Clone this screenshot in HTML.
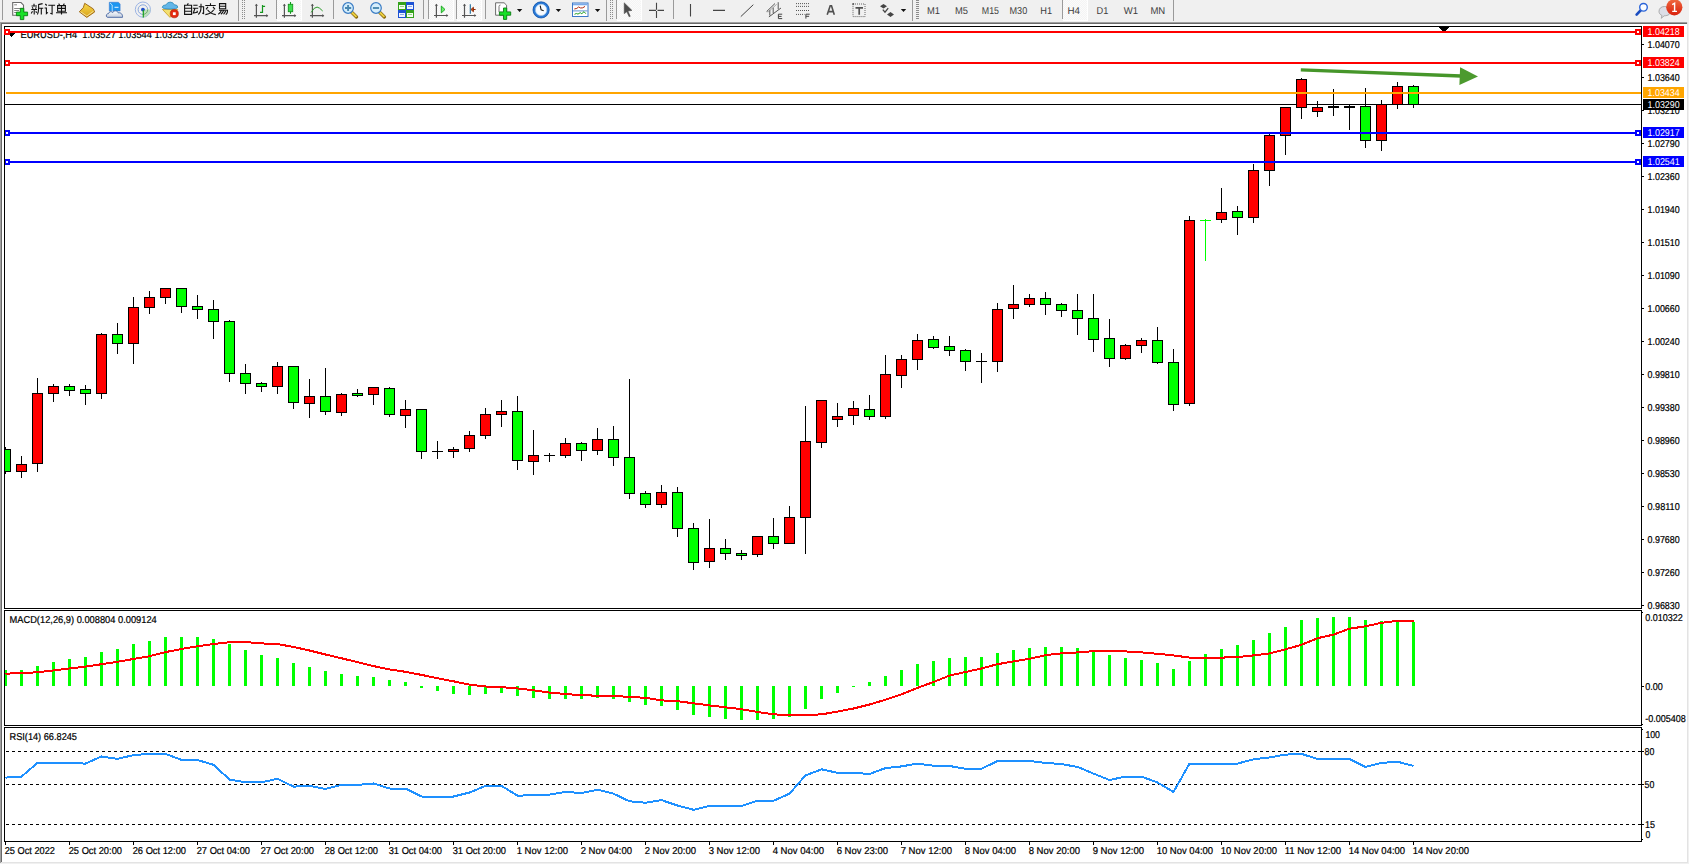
<!DOCTYPE html><html><head><meta charset="utf-8"><style>html,body{margin:0;padding:0;width:1689px;height:864px;overflow:hidden;background:#f0f0f0}svg{display:block}text{font-family:"Liberation Sans",sans-serif;text-rendering:geometricPrecision}</style></head><body>
<svg width="1689" height="864" viewBox="0 0 1689 864">
<rect x="0" y="0" width="1689" height="864" fill="#f0f0f0"/>
<g id="toolbar">
<defs>
<pattern id="chk" width="2" height="2" patternUnits="userSpaceOnUse"><rect width="2" height="2" fill="#f4f4f4"/><rect width="1" height="1" fill="#fbfbfb"/><rect x="1" y="1" width="1" height="1" fill="#fbfbfb"/></pattern>
<pattern id="grip" width="4" height="2" patternUnits="userSpaceOnUse"><rect width="3" height="1" fill="#8c8c8c"/></pattern>
<linearGradient id="gGold" x1="0" y1="0" x2="0" y2="1"><stop offset="0" stop-color="#f7d84a"/><stop offset="1" stop-color="#d9a21a"/></linearGradient>
<linearGradient id="gCloud" x1="0" y1="0" x2="0" y2="1"><stop offset="0" stop-color="#ffffff"/><stop offset="1" stop-color="#c4cede"/></linearGradient>
<linearGradient id="gBadge" x1="0" y1="0" x2="0" y2="1"><stop offset="0" stop-color="#f06a40"/><stop offset="1" stop-color="#d8200c"/></linearGradient>
</defs>
<g shape-rendering="crispEdges">
<!-- separators -->
<rect x="2" y="0" width="1" height="20" fill="#9a9a9a"/>
<rect x="238" y="0" width="1" height="21" fill="#9a9a9a"/>
<rect x="242" y="0" width="3" height="19" fill="url(#grip)"/>
<rect x="276" y="0" width="1" height="19" fill="#9a9a9a"/>
<rect x="333" y="0" width="1" height="19" fill="#9a9a9a"/>
<rect x="423" y="0" width="1" height="19" fill="#9a9a9a"/>
<rect x="428" y="0" width="1" height="19" fill="#9a9a9a"/>
<rect x="456" y="0" width="1" height="19" fill="#9a9a9a"/>
<rect x="485" y="0" width="1" height="19" fill="#9a9a9a"/>
<rect x="606" y="0" width="1" height="21" fill="#9a9a9a"/>
<rect x="610" y="0" width="3" height="19" fill="url(#grip)"/>
<rect x="616" y="0" width="1" height="19" fill="#9a9a9a"/>
<rect x="673" y="0" width="1" height="19" fill="#9a9a9a"/>
<rect x="912" y="0" width="1" height="21" fill="#9a9a9a"/>
<rect x="916" y="0" width="3" height="19" fill="url(#grip)"/>
<rect x="1062" y="0" width="1" height="19" fill="#9a9a9a"/>
<rect x="1173" y="0" width="1" height="21" fill="#9a9a9a"/>
<!-- pressed backgrounds -->
<rect x="277" y="0" width="24" height="20" fill="url(#chk)"/>
<rect x="429" y="0" width="24" height="20" fill="url(#chk)"/>
<rect x="457" y="0" width="24" height="20" fill="url(#chk)"/>
<rect x="617" y="0" width="24" height="20" fill="url(#chk)"/>
<rect x="1063" y="0" width="24" height="20" fill="url(#chk)"/>
<rect x="277" y="20" width="25" height="1" fill="#fff"/><rect x="301" y="0" width="1" height="20" fill="#fff"/>
<rect x="429" y="20" width="25" height="1" fill="#fff"/><rect x="453" y="0" width="1" height="20" fill="#fff"/>
<rect x="457" y="20" width="25" height="1" fill="#fff"/><rect x="481" y="0" width="1" height="20" fill="#fff"/>
<rect x="617" y="20" width="25" height="1" fill="#fff"/><rect x="641" y="0" width="1" height="20" fill="#fff"/>
<rect x="1063" y="20" width="25" height="1" fill="#fff"/><rect x="1087" y="0" width="1" height="20" fill="#fff"/>
</g>
<!-- new order icon -->
<path d="M12.7,2.5 h8.3 l2.5,2.6 v10.2 h-10.8 z" fill="#fff" stroke="#6a6a6a" stroke-width="1.1"/>
<path d="M14.2,4.8 h2.8 M14.2,8.5 h9 M14.2,10.5 h4.8 M14.2,12.5 h2" stroke="#777" stroke-width="0.9"/>
<path d="M20.3,8.3 h3.5 v3.8 h3.8 v3.6 h-3.8 v3.9 h-3.5 v-3.9 h-3.9 v-3.6 h3.9 z" fill="#18e028" stroke="#0a7e12" stroke-width="0.9"/>
<!-- gold book -->
<path d="M84.7,3.3 L93.3,8.9 L94.7,11.9 L86.8,17.4 L79.3,11.8 L83.3,7.6 Z" fill="url(#gGold)" stroke="#9a6210" stroke-width="0.9" stroke-linejoin="round"/>
<path d="M80.5,11.7 L86.8,16 L93.5,11.2" fill="none" stroke="#f3e3a0" stroke-width="0.9"/>
<!-- blue box + cloud -->
<path d="M109.3,2.3 h9 l1.8,1.6 v7 h-10.8 z" fill="#1c96f0" stroke="#3a7ad0" stroke-width="0.6"/>
<path d="M110,3 l2.2,2 v6" fill="none" stroke="#d8f0ff" stroke-width="0.8"/>
<path d="M114.5,7.3 h4" stroke="#e8f6ff" stroke-width="1"/>
<path d="M107.6,17.3 c-1.8,0 -1.8,-3.8 0.8,-3.6 c0.5,-2.2 3.2,-2.6 4.4,-1.2 c1.3,-2.4 4.6,-2.2 5.4,0.4 c2.8,-0.6 4.6,1.5 4.3,4.4 z" fill="url(#gCloud)" stroke="#40609e" stroke-width="0.9"/>
<!-- signal icon -->
<circle cx="142.9" cy="9.6" r="7.6" fill="none" stroke="#9cb4e4" stroke-width="1"/>
<circle cx="142.9" cy="9.6" r="4.8" fill="none" stroke="#8aa8dc" stroke-width="1"/>
<path d="M142.9,9.6 v7.6 a7.6,7.6 0 0 0 7.6,-7.6 z" fill="#b4dcb0" opacity="0.85"/>
<circle cx="142.9" cy="9.6" r="4.8" fill="none" stroke="#70b070" stroke-width="1" stroke-dasharray="7.5,30" stroke-dashoffset="0"/>
<circle cx="142.9" cy="9.6" r="1.9" fill="#2050c8"/>
<path d="M143.3,10 v7.6" stroke="#18a020" stroke-width="1.2"/>
<!-- auto trading icon -->
<path d="M162.4,9.4 L177.8,9.4 L170,17.4 Z" fill="#f3e070" stroke="#c89a20" stroke-width="0.8"/>
<path d="M162.2,7.2 q0.5,-2.4 3.8,-2.3 q1.3,-2.8 4.2,-2.8 q3,0 4,2.6 q3.4,0 3.6,2.4 q-0.6,2 -7.6,2 q-7.2,0 -8,-1.9z" fill="#62b6e8" stroke="#2a88b8" stroke-width="0.8"/>
<circle cx="174.3" cy="13.7" r="4.1" fill="#e42a10" stroke="#b01c08" stroke-width="0.6"/>
<rect x="172.9" y="12.3" width="2.8" height="2.8" fill="#fff"/>
<!-- Chinese text approximations -->
<g fill="none" stroke="#111" stroke-width="1.1">
<!-- 新 -->
<path d="M34,3.8 v1.7 M31.5,6 h5.5 M32.3,7.2 l0.8,1.6 M36.3,7.2 l-0.8,1.6 M31.3,9.5 h5.8 M34.2,9.5 v5 M32.5,11.3 l-1.3,2.2 M35.6,11.5 l1.4,1.2 M38.2,4.6 l4.4,-1 M38.6,4.8 v3.4 q0,4 -1.2,6.2 M38.6,8.3 h4.6 M41.3,8.3 v6.2"/>
<!-- 订 -->
<path d="M45.3,4 l1.5,1.5 M44.6,8 h1.8 v5.6 l1.5,-1.3 M48.3,5.2 h6.8 M52.1,5.2 v8.8 l-1.8,-0.8"/>
<!-- 单 -->
<path d="M58.6,3.6 l1,1.4 M64.4,3.6 l-1,1.4 M57.6,5.6 h7.8 v5.6 h-7.8 z M57.6,8.4 h7.8 M61.5,5.6 v9 M56,12.8 h11"/>
<!-- 自 -->
<path d="M188.3,3.2 l-1,1.8 M184.6,5.2 h7 v9.2 h-7 z M184.6,8.2 h7 M184.6,11.3 h7"/>
<!-- 动 -->
<path d="M193.3,5.2 h4.3 M192.8,8.3 h5.4 M195,8.3 l-1.7,4.8 l4.3,-0.8 M196.8,10.8 l0.9,1.8 M198.8,6.8 h4.8 v6.8 l-1.4,-0.6 M201,3.8 v3.5 q0,5 -2.7,7.2"/>
<!-- 交 -->
<path d="M210.5,3.2 v1.9 M205.3,5.5 h10.4 M208,6.8 l-2,2.6 M213,6.8 l2,2.6 M207.5,9.8 q3,4.2 8.3,4.8 M213.8,9.8 q-3,4.2 -8.4,4.8"/>
<!-- 易 -->
<path d="M219.5,3.6 h6.2 v5.2 h-6.2 z M219.5,6.2 h6.2 M219,10.3 h8.5 q0,3.8 -1.8,4.2 M221.5,10.3 q-1,2.6 -3.2,4 M223.6,10.5 q-1,2.6 -2.7,3.7 M225.6,11 q-0.9,2.4 -2.1,3.2"/>
</g>
<!-- chart type icons axes -->
<g stroke="#555" stroke-width="1.2" fill="none">
<path d="M256.4,4.5 v13.3 M254,15.7 h13.5"/>
<path d="M284.4,4.5 v13.3 M282,15.7 h13.5"/>
<path d="M312.4,4.5 v13.3 M310,15.7 h13.5"/>
<path d="M436.4,4.5 v13.3 M434,15.5 h13.5"/>
<path d="M464.5,4.5 v13.3 M462,15.5 h13.5"/>
</g>
<g fill="#555">
<path d="M256.4,3.8 l-1.6,2 h3.2z M268.3,15.7 l-2,-1.6 v3.2z"/>
<path d="M284.4,3.8 l-1.6,2 h3.2z M296.3,15.7 l-2,-1.6 v3.2z"/>
<path d="M312.4,3.8 l-1.6,2 h3.2z M324.3,15.7 l-2,-1.6 v3.2z"/>
<path d="M436.4,3.8 l-1.6,2 h3.2z M448.3,15.5 l-2,-1.6 v3.2z"/>
<path d="M464.5,3.8 l-1.6,2 h3.2z M476.3,15.5 l-2,-1.6 v3.2z"/>
</g>
<path d="M260,12.4 h2.5 v-7.4 M262.5,6.4 h2.6" fill="none" stroke="#14961e" stroke-width="1.2"/>
<path d="M290.5,2 v11.8" stroke="#14961e" stroke-width="1.1"/>
<rect x="288.3" y="4.3" width="4.4" height="7.4" fill="#40e050" stroke="#14961e" stroke-width="0.9"/>
<path d="M311.2,12.4 q3,-5.5 5.9,-5.3 q2.2,0.2 5.6,3.9" fill="none" stroke="#2a9a2a" stroke-width="1"/>
<!-- zoom icons -->
<path d="M351.7,12.3 l4.8,4.6" stroke="#8a6a10" stroke-width="3.4" stroke-linecap="round"/>
<path d="M351.7,12.3 l4.8,4.6" stroke="#ecd040" stroke-width="2"/>
<circle cx="348.1" cy="8" r="5.3" fill="#d6eefc" stroke="#3a7cc4" stroke-width="1.2"/>
<path d="M345,8 h6.2 M348.1,4.9 v6.2" stroke="#4a88b0" stroke-width="1.9"/>
<path d="M379.6,12.3 l4.8,4.6" stroke="#8a6a10" stroke-width="3.4" stroke-linecap="round"/>
<path d="M379.6,12.3 l4.8,4.6" stroke="#ecd040" stroke-width="2"/>
<circle cx="376" cy="8" r="5.3" fill="#d6eefc" stroke="#3a7cc4" stroke-width="1.2"/>
<path d="M372.9,8 h6.2" stroke="#4a88b0" stroke-width="1.9"/>
<!-- tile windows -->
<g shape-rendering="crispEdges">
<rect x="398" y="2" width="8" height="8" fill="#34a21c"/>
<rect x="406" y="2" width="8" height="8" fill="#1c52d4"/>
<rect x="398" y="10" width="8" height="8" fill="#1c52d4"/>
<rect x="406" y="10" width="8" height="8" fill="#34a21c"/>
<rect x="399" y="5" width="6" height="4" fill="#f4fff0"/>
<rect x="407" y="5" width="6" height="4" fill="#f0f4ff"/>
<rect x="399" y="13" width="6" height="4" fill="#f0f4ff"/>
<rect x="407" y="13" width="6" height="4" fill="#f4fff0"/>
<rect x="400" y="6" width="4" height="1" fill="#9ad08a"/>
<rect x="408" y="6" width="4" height="1" fill="#8aa8e8"/>
<rect x="400" y="14" width="4" height="1" fill="#8aa8e8"/>
<rect x="408" y="14" width="4" height="1" fill="#9ad08a"/>
</g>
<!-- autoscroll & shift -->
<path d="M441.3,6 L445,9.5 L441.3,12.9 z" fill="#70f070" stroke="#10a018" stroke-width="0.9"/>
<path d="M470.3,4.2 v9.6" stroke="#1a6a98" stroke-width="1.1"/>
<path d="M475.6,9.5 h-3 M471,9.5 l2.4,-2.2 v4.4 z" stroke="#8a2a08" stroke-width="1" fill="#f06018"/>
<!-- indicators icon -->
<path d="M495.6,2.8 h8.5 l2.5,2.4 v10 h-11z" fill="#fff" stroke="#6a6a6a" stroke-width="1"/>
<path d="M499,12 v-5.5 q0,-1.5 1.5,-1.5" fill="none" stroke="#666" stroke-width="0.9"/>
<path d="M503.5,8 h3.2 v3.9 h4 v3.3 h-4 v4.2 h-3.2 v-4.2 h-4.1 v-3.3 h4.1 z" fill="#18e028" stroke="#0a7e12" stroke-width="0.9"/>
<path d="M516.9,8.9 h5.4 l-2.7,3z" fill="#111"/>
<!-- clock -->
<circle cx="541.1" cy="9.9" r="7.0" fill="#f8fbff" stroke="#2a7ad8" stroke-width="2.4"/>
<circle cx="541.1" cy="9.9" r="8.1" fill="none" stroke="#0a4aa0" stroke-width="0.7"/>
<circle cx="541.1" cy="9.9" r="5.6" fill="none" stroke="#9cc8f0" stroke-width="0.5"/>
<path d="M540.2,5.6 l0.9,4.3 l2.6,0.8" stroke="#1a1a1a" stroke-width="1.1" fill="none"/>
<path d="M541.1,3.8 v0.8 M541.1,15.2 v0.8 M535,9.9 h0.8 M546.4,9.9 h0.8" stroke="#999" stroke-width="0.6"/>
<path d="M555.7,8.9 h5.4 l-2.7,3z" fill="#111"/>
<!-- template -->
<rect x="572.5" y="3" width="15.5" height="13.5" fill="#fff" stroke="#3c78c8" stroke-width="1"/>
<rect x="573" y="3.5" width="14.5" height="1.8" fill="#7aaae8"/>
<path d="M573,10.9 h14.5" stroke="#3c78c8" stroke-width="0.8"/>
<path d="M574.3,9 l2.5,-0.6 l1.8,-1.4 l2,1 l2.2,-0.2 l2.2,-1.4" stroke="#b02a10" stroke-width="1" fill="none"/>
<path d="M574.5,14.3 l1.8,-0.8 l1.7,0.6 l2.2,-1.4 l1.6,1 l2.2,-2 l1.8,2" stroke="#20a020" stroke-width="1" fill="none"/>
<path d="M594.9,8.9 h5.4 l-2.7,3z" fill="#111"/>
<!-- cursor -->
<path d="M624.2,2.8 L632,10.4 L628,11.1 L630.3,16.3 L629.1,16.8 L626.8,11.8 L624.2,13.7 Z" fill="#4e4e4e" stroke="#4e4e4e" stroke-width="0.5" stroke-linejoin="round"/>
<!-- crosshair -->
<path d="M656.5,2.8 v7 M656.5,11 v7 M649,10.4 h7 M657.5,10.4 h6.5" stroke="#454545" stroke-width="1.1"/>
<!-- vline hline trend -->
<path d="M690.5,4 v12.6 M713,10.4 h12" stroke="#454545" stroke-width="1.1"/>
<path d="M740.8,16.6 L753.3,4.7" stroke="#454545" stroke-width="1"/>
<!-- channel E -->
<path d="M766.7,11.5 L775,3.5 M768.9,16.9 L781,8 M769.8,15.5 v-5.3 M773.2,13 v-5.4 M778.2,9.2 v-7" stroke="#444" stroke-width="0.9" fill="none"/>
<path d="M766.7,11.5 l1.5,0.4 l8.5,-7.6" stroke="#777" stroke-width="0.6" fill="none"/>
<path d="M782.2,14.2 h-3.8 v4.4 h3.8 M778.4,16.4 h3.2" stroke="#444" stroke-width="1" fill="none"/>
<!-- fibo F -->
<path d="M796,3.6 h13 M796,6.4 h13 M796,10.5 h13 M796,14.4 h8.5" stroke="#555" stroke-width="1" stroke-dasharray="1,1"/>
<path d="M809.7,14.2 h-3.8 v4.4 M805.9,16.3 h3.2" stroke="#444" stroke-width="1" fill="none"/>
<!-- A -->
<path d="M827.2,14.7 L830.2,5.8 h1.3 L834.3,14.7 M828.5,11.6 h4.6" stroke="#505050" stroke-width="1.6" fill="none"/>
<!-- text label -->
<rect x="853" y="4" width="12" height="12.6" fill="none" stroke="#666" stroke-width="1" stroke-dasharray="1,1"/>
<rect x="852.3" y="3.2" width="1.8" height="1.5" fill="#555"/>
<path d="M855.5,7.8 h7.5 M859.2,7.8 v7" stroke="#505050" stroke-width="1.7" fill="none"/>
<!-- arrows -->
<path d="M880,6.2 l3.5,-2.3 l3.5,2.3 l-3.5,2.2z M887,14.5 l3.5,-2.4 l3.5,2.4 l-3.5,2.4z" fill="#454545"/>
<path d="M882.8,9.6 l2.2,2.6 l3.2,-4" stroke="#454545" fill="none" stroke-width="1.3"/>
<path d="M900.8,8.9 h5.4 l-2.7,3z" fill="#111"/>
<!-- timeframes -->
<g fill="#3c3c3c" font-size="10">
<text x="927" y="14" textLength="13" lengthAdjust="spacingAndGlyphs">M1</text>
<text x="955" y="14" textLength="13" lengthAdjust="spacingAndGlyphs">M5</text>
<text x="981.8" y="14" textLength="17.2" lengthAdjust="spacingAndGlyphs">M15</text>
<text x="1009.5" y="14" textLength="17.7" lengthAdjust="spacingAndGlyphs">M30</text>
<text x="1040.3" y="14" textLength="11.8" lengthAdjust="spacingAndGlyphs">H1</text>
<text x="1067.5" y="14" textLength="12.5" lengthAdjust="spacingAndGlyphs">H4</text>
<text x="1096.5" y="14" textLength="11.8" lengthAdjust="spacingAndGlyphs">D1</text>
<text x="1123.7" y="14" textLength="14.3" lengthAdjust="spacingAndGlyphs">W1</text>
<text x="1150.4" y="14" textLength="14.8" lengthAdjust="spacingAndGlyphs">MN</text>
</g>
<!-- search -->
<path d="M1641,10 L1636.6,14.6" stroke="#1a4cc0" stroke-width="2.6" stroke-linecap="round"/>
<circle cx="1643.5" cy="7.3" r="3.8" fill="#fafcff" stroke="#2a64d8" stroke-width="1.4"/>
<!-- chat + badge -->
<path d="M1664.5,6.5 c-3.5,0 -5.5,2.2 -5.5,4.8 c0,2 1.2,3.5 3,4.2 l-0.8,2.8 l3,-2.5 c4,0 6.5,-2 6.5,-4.5 c0,-2.6 -2.6,-4.8 -6.2,-4.8z" fill="#dcdee6" stroke="#a4a4a4" stroke-width="0.9"/>
<circle cx="1674.3" cy="7.3" r="8.1" fill="url(#gBadge)"/>
<path d="M1672.2,4.6 l2.4,-1.4 v8 M1672.2,11.4 h4.8" stroke="#fff" stroke-width="1.4" fill="none"/>
</g>

<g shape-rendering="crispEdges">
<rect x="0" y="22" width="1688" height="1" fill="#a0a0a0"/>
<rect x="0" y="23" width="1687" height="1" fill="#696969"/>
<rect x="0" y="22" width="1" height="841" fill="#a0a0a0"/>
<rect x="1" y="23" width="1" height="839" fill="#696969"/>
<rect x="1687" y="22" width="1" height="841" fill="#e3e3e3"/>
<rect x="1" y="862" width="1687" height="1" fill="#e3e3e3"/>
<rect x="2" y="24" width="1685" height="838" fill="#ffffff"/>
<rect x="4" y="26" width="1638" height="1" fill="#000"/>
<rect x="4" y="608" width="1638" height="1" fill="#000"/>
<rect x="4" y="26" width="1" height="583" fill="#000"/>
<rect x="1641" y="26" width="1" height="583" fill="#000"/>
<rect x="4" y="610" width="1638" height="1" fill="#000"/>
<rect x="4" y="725" width="1638" height="1" fill="#000"/>
<rect x="4" y="610" width="1" height="116" fill="#000"/>
<rect x="1641" y="610" width="1" height="116" fill="#000"/>
<rect x="4" y="727" width="1638" height="1" fill="#000"/>
<rect x="4" y="841" width="1638" height="1" fill="#000"/>
<rect x="4" y="727" width="1" height="115" fill="#000"/>
<rect x="1641" y="727" width="1" height="115" fill="#000"/>
</g>
<defs><clipPath id="cm"><rect x="5" y="27" width="1636" height="581"/></clipPath><clipPath id="cd"><rect x="5" y="611" width="1636" height="114"/></clipPath><clipPath id="cr"><rect x="5" y="728" width="1636" height="113"/></clipPath></defs>
<g clip-path="url(#cm)" shape-rendering="crispEdges">
<rect x="5" y="104" width="1636" height="1" fill="#000"/>
<rect x="5" y="447" width="1" height="27" fill="#000"/>
<rect x="0" y="449" width="11" height="23" fill="#000"/>
<rect x="1" y="450" width="9" height="21" fill="#00ff00"/>
<rect x="21" y="456" width="1" height="22" fill="#000"/>
<rect x="16" y="464" width="11" height="8" fill="#000"/>
<rect x="17" y="465" width="9" height="6" fill="#ff0000"/>
<rect x="37" y="378" width="1" height="94" fill="#000"/>
<rect x="32" y="393" width="11" height="71" fill="#000"/>
<rect x="33" y="394" width="9" height="69" fill="#ff0000"/>
<rect x="53" y="384" width="1" height="18" fill="#000"/>
<rect x="48" y="386" width="11" height="8" fill="#000"/>
<rect x="49" y="387" width="9" height="6" fill="#ff0000"/>
<rect x="69" y="384" width="1" height="12" fill="#000"/>
<rect x="64" y="386" width="11" height="5" fill="#000"/>
<rect x="65" y="387" width="9" height="3" fill="#00ff00"/>
<rect x="85" y="385" width="1" height="20" fill="#000"/>
<rect x="80" y="389" width="11" height="5" fill="#000"/>
<rect x="81" y="390" width="9" height="3" fill="#00ff00"/>
<rect x="101" y="333" width="1" height="66" fill="#000"/>
<rect x="96" y="334" width="11" height="60" fill="#000"/>
<rect x="97" y="335" width="9" height="58" fill="#ff0000"/>
<rect x="117" y="323" width="1" height="31" fill="#000"/>
<rect x="112" y="334" width="11" height="10" fill="#000"/>
<rect x="113" y="335" width="9" height="8" fill="#00ff00"/>
<rect x="133" y="297" width="1" height="67" fill="#000"/>
<rect x="128" y="307" width="11" height="37" fill="#000"/>
<rect x="129" y="308" width="9" height="35" fill="#ff0000"/>
<rect x="149" y="291" width="1" height="23" fill="#000"/>
<rect x="144" y="297" width="11" height="11" fill="#000"/>
<rect x="145" y="298" width="9" height="9" fill="#ff0000"/>
<rect x="165" y="288" width="1" height="16" fill="#000"/>
<rect x="160" y="288" width="11" height="10" fill="#000"/>
<rect x="161" y="289" width="9" height="8" fill="#ff0000"/>
<rect x="181" y="288" width="1" height="25" fill="#000"/>
<rect x="176" y="288" width="11" height="19" fill="#000"/>
<rect x="177" y="289" width="9" height="17" fill="#00ff00"/>
<rect x="197" y="295" width="1" height="24" fill="#000"/>
<rect x="192" y="306" width="11" height="4" fill="#000"/>
<rect x="193" y="307" width="9" height="2" fill="#00ff00"/>
<rect x="213" y="300" width="1" height="39" fill="#000"/>
<rect x="208" y="309" width="11" height="13" fill="#000"/>
<rect x="209" y="310" width="9" height="11" fill="#00ff00"/>
<rect x="229" y="320" width="1" height="62" fill="#000"/>
<rect x="224" y="321" width="11" height="53" fill="#000"/>
<rect x="225" y="322" width="9" height="51" fill="#00ff00"/>
<rect x="245" y="364" width="1" height="30" fill="#000"/>
<rect x="240" y="373" width="11" height="11" fill="#000"/>
<rect x="241" y="374" width="9" height="9" fill="#00ff00"/>
<rect x="261" y="382" width="1" height="10" fill="#000"/>
<rect x="256" y="383" width="11" height="4" fill="#000"/>
<rect x="257" y="384" width="9" height="2" fill="#00ff00"/>
<rect x="277" y="362" width="1" height="32" fill="#000"/>
<rect x="272" y="366" width="11" height="21" fill="#000"/>
<rect x="273" y="367" width="9" height="19" fill="#ff0000"/>
<rect x="293" y="366" width="1" height="43" fill="#000"/>
<rect x="288" y="366" width="11" height="37" fill="#000"/>
<rect x="289" y="367" width="9" height="35" fill="#00ff00"/>
<rect x="309" y="379" width="1" height="39" fill="#000"/>
<rect x="304" y="396" width="11" height="8" fill="#000"/>
<rect x="305" y="397" width="9" height="6" fill="#ff0000"/>
<rect x="325" y="368" width="1" height="47" fill="#000"/>
<rect x="320" y="396" width="11" height="16" fill="#000"/>
<rect x="321" y="397" width="9" height="14" fill="#00ff00"/>
<rect x="341" y="393" width="1" height="23" fill="#000"/>
<rect x="336" y="394" width="11" height="19" fill="#000"/>
<rect x="337" y="395" width="9" height="17" fill="#ff0000"/>
<rect x="357" y="389" width="1" height="8" fill="#000"/>
<rect x="352" y="393" width="11" height="3" fill="#000"/>
<rect x="353" y="394" width="9" height="1" fill="#00ff00"/>
<rect x="373" y="387" width="1" height="18" fill="#000"/>
<rect x="368" y="387" width="11" height="8" fill="#000"/>
<rect x="369" y="388" width="9" height="6" fill="#ff0000"/>
<rect x="389" y="387" width="1" height="30" fill="#000"/>
<rect x="384" y="388" width="11" height="27" fill="#000"/>
<rect x="385" y="389" width="9" height="25" fill="#00ff00"/>
<rect x="405" y="400" width="1" height="28" fill="#000"/>
<rect x="400" y="409" width="11" height="7" fill="#000"/>
<rect x="401" y="410" width="9" height="5" fill="#ff0000"/>
<rect x="421" y="409" width="1" height="50" fill="#000"/>
<rect x="416" y="409" width="11" height="43" fill="#000"/>
<rect x="417" y="410" width="9" height="41" fill="#00ff00"/>
<rect x="437" y="441" width="1" height="18" fill="#000"/>
<rect x="432" y="451" width="11" height="1" fill="#000"/>
<rect x="453" y="447" width="1" height="11" fill="#000"/>
<rect x="448" y="449" width="11" height="3" fill="#000"/>
<rect x="449" y="450" width="9" height="1" fill="#ff0000"/>
<rect x="469" y="431" width="1" height="21" fill="#000"/>
<rect x="464" y="435" width="11" height="14" fill="#000"/>
<rect x="465" y="436" width="9" height="12" fill="#ff0000"/>
<rect x="485" y="408" width="1" height="31" fill="#000"/>
<rect x="480" y="414" width="11" height="22" fill="#000"/>
<rect x="481" y="415" width="9" height="20" fill="#ff0000"/>
<rect x="501" y="400" width="1" height="27" fill="#000"/>
<rect x="496" y="411" width="11" height="4" fill="#000"/>
<rect x="497" y="412" width="9" height="2" fill="#ff0000"/>
<rect x="517" y="396" width="1" height="74" fill="#000"/>
<rect x="512" y="411" width="11" height="50" fill="#000"/>
<rect x="513" y="412" width="9" height="48" fill="#00ff00"/>
<rect x="533" y="430" width="1" height="45" fill="#000"/>
<rect x="528" y="455" width="11" height="7" fill="#000"/>
<rect x="529" y="456" width="9" height="5" fill="#ff0000"/>
<rect x="549" y="453" width="1" height="9" fill="#000"/>
<rect x="544" y="455" width="11" height="1" fill="#000"/>
<rect x="565" y="438" width="1" height="20" fill="#000"/>
<rect x="560" y="443" width="11" height="13" fill="#000"/>
<rect x="561" y="444" width="9" height="11" fill="#ff0000"/>
<rect x="581" y="442" width="1" height="19" fill="#000"/>
<rect x="576" y="443" width="11" height="8" fill="#000"/>
<rect x="577" y="444" width="9" height="6" fill="#00ff00"/>
<rect x="597" y="428" width="1" height="27" fill="#000"/>
<rect x="592" y="439" width="11" height="12" fill="#000"/>
<rect x="593" y="440" width="9" height="10" fill="#ff0000"/>
<rect x="613" y="426" width="1" height="40" fill="#000"/>
<rect x="608" y="439" width="11" height="19" fill="#000"/>
<rect x="609" y="440" width="9" height="17" fill="#00ff00"/>
<rect x="629" y="379" width="1" height="120" fill="#000"/>
<rect x="624" y="457" width="11" height="37" fill="#000"/>
<rect x="625" y="458" width="9" height="35" fill="#00ff00"/>
<rect x="645" y="491" width="1" height="17" fill="#000"/>
<rect x="640" y="493" width="11" height="12" fill="#000"/>
<rect x="641" y="494" width="9" height="10" fill="#00ff00"/>
<rect x="661" y="485" width="1" height="23" fill="#000"/>
<rect x="656" y="492" width="11" height="13" fill="#000"/>
<rect x="657" y="493" width="9" height="11" fill="#ff0000"/>
<rect x="677" y="487" width="1" height="50" fill="#000"/>
<rect x="672" y="492" width="11" height="37" fill="#000"/>
<rect x="673" y="493" width="9" height="35" fill="#00ff00"/>
<rect x="693" y="523" width="1" height="47" fill="#000"/>
<rect x="688" y="528" width="11" height="35" fill="#000"/>
<rect x="689" y="529" width="9" height="33" fill="#00ff00"/>
<rect x="709" y="519" width="1" height="49" fill="#000"/>
<rect x="704" y="548" width="11" height="14" fill="#000"/>
<rect x="705" y="549" width="9" height="12" fill="#ff0000"/>
<rect x="725" y="539" width="1" height="21" fill="#000"/>
<rect x="720" y="548" width="11" height="6" fill="#000"/>
<rect x="721" y="549" width="9" height="4" fill="#00ff00"/>
<rect x="741" y="550" width="1" height="10" fill="#000"/>
<rect x="736" y="553" width="11" height="3" fill="#000"/>
<rect x="737" y="554" width="9" height="1" fill="#00ff00"/>
<rect x="757" y="536" width="1" height="21" fill="#000"/>
<rect x="752" y="536" width="11" height="19" fill="#000"/>
<rect x="753" y="537" width="9" height="17" fill="#ff0000"/>
<rect x="773" y="518" width="1" height="31" fill="#000"/>
<rect x="768" y="536" width="11" height="8" fill="#000"/>
<rect x="769" y="537" width="9" height="6" fill="#00ff00"/>
<rect x="789" y="506" width="1" height="38" fill="#000"/>
<rect x="784" y="517" width="11" height="27" fill="#000"/>
<rect x="785" y="518" width="9" height="25" fill="#ff0000"/>
<rect x="805" y="406" width="1" height="148" fill="#000"/>
<rect x="800" y="441" width="11" height="77" fill="#000"/>
<rect x="801" y="442" width="9" height="75" fill="#ff0000"/>
<rect x="821" y="400" width="1" height="48" fill="#000"/>
<rect x="816" y="400" width="11" height="43" fill="#000"/>
<rect x="817" y="401" width="9" height="41" fill="#ff0000"/>
<rect x="837" y="403" width="1" height="24" fill="#000"/>
<rect x="832" y="416" width="11" height="4" fill="#000"/>
<rect x="833" y="417" width="9" height="2" fill="#ff0000"/>
<rect x="853" y="401" width="1" height="24" fill="#000"/>
<rect x="848" y="408" width="11" height="8" fill="#000"/>
<rect x="849" y="409" width="9" height="6" fill="#ff0000"/>
<rect x="869" y="395" width="1" height="25" fill="#000"/>
<rect x="864" y="409" width="11" height="8" fill="#000"/>
<rect x="865" y="410" width="9" height="6" fill="#00ff00"/>
<rect x="885" y="355" width="1" height="64" fill="#000"/>
<rect x="880" y="374" width="11" height="43" fill="#000"/>
<rect x="881" y="375" width="9" height="41" fill="#ff0000"/>
<rect x="901" y="355" width="1" height="33" fill="#000"/>
<rect x="896" y="359" width="11" height="17" fill="#000"/>
<rect x="897" y="360" width="9" height="15" fill="#ff0000"/>
<rect x="917" y="334" width="1" height="36" fill="#000"/>
<rect x="912" y="340" width="11" height="20" fill="#000"/>
<rect x="913" y="341" width="9" height="18" fill="#ff0000"/>
<rect x="933" y="336" width="1" height="13" fill="#000"/>
<rect x="928" y="339" width="11" height="9" fill="#000"/>
<rect x="929" y="340" width="9" height="7" fill="#00ff00"/>
<rect x="949" y="336" width="1" height="20" fill="#000"/>
<rect x="944" y="346" width="11" height="5" fill="#000"/>
<rect x="945" y="347" width="9" height="3" fill="#00ff00"/>
<rect x="965" y="349" width="1" height="22" fill="#000"/>
<rect x="960" y="350" width="11" height="12" fill="#000"/>
<rect x="961" y="351" width="9" height="10" fill="#00ff00"/>
<rect x="981" y="353" width="1" height="30" fill="#000"/>
<rect x="976" y="361" width="11" height="1" fill="#000"/>
<rect x="997" y="303" width="1" height="69" fill="#000"/>
<rect x="992" y="309" width="11" height="53" fill="#000"/>
<rect x="993" y="310" width="9" height="51" fill="#ff0000"/>
<rect x="1013" y="285" width="1" height="34" fill="#000"/>
<rect x="1008" y="304" width="11" height="5" fill="#000"/>
<rect x="1009" y="305" width="9" height="3" fill="#ff0000"/>
<rect x="1029" y="294" width="1" height="13" fill="#000"/>
<rect x="1024" y="298" width="11" height="7" fill="#000"/>
<rect x="1025" y="299" width="9" height="5" fill="#ff0000"/>
<rect x="1045" y="292" width="1" height="23" fill="#000"/>
<rect x="1040" y="298" width="11" height="7" fill="#000"/>
<rect x="1041" y="299" width="9" height="5" fill="#00ff00"/>
<rect x="1061" y="303" width="1" height="14" fill="#000"/>
<rect x="1056" y="304" width="11" height="7" fill="#000"/>
<rect x="1057" y="305" width="9" height="5" fill="#00ff00"/>
<rect x="1077" y="294" width="1" height="41" fill="#000"/>
<rect x="1072" y="310" width="11" height="9" fill="#000"/>
<rect x="1073" y="311" width="9" height="7" fill="#00ff00"/>
<rect x="1093" y="294" width="1" height="58" fill="#000"/>
<rect x="1088" y="318" width="11" height="22" fill="#000"/>
<rect x="1089" y="319" width="9" height="20" fill="#00ff00"/>
<rect x="1109" y="319" width="1" height="48" fill="#000"/>
<rect x="1104" y="338" width="11" height="21" fill="#000"/>
<rect x="1105" y="339" width="9" height="19" fill="#00ff00"/>
<rect x="1125" y="344" width="1" height="16" fill="#000"/>
<rect x="1120" y="345" width="11" height="14" fill="#000"/>
<rect x="1121" y="346" width="9" height="12" fill="#ff0000"/>
<rect x="1141" y="338" width="1" height="15" fill="#000"/>
<rect x="1136" y="340" width="11" height="6" fill="#000"/>
<rect x="1137" y="341" width="9" height="4" fill="#ff0000"/>
<rect x="1157" y="327" width="1" height="37" fill="#000"/>
<rect x="1152" y="340" width="11" height="23" fill="#000"/>
<rect x="1153" y="341" width="9" height="21" fill="#00ff00"/>
<rect x="1173" y="349" width="1" height="62" fill="#000"/>
<rect x="1168" y="362" width="11" height="43" fill="#000"/>
<rect x="1169" y="363" width="9" height="41" fill="#00ff00"/>
<rect x="1189" y="216" width="1" height="190" fill="#000"/>
<rect x="1184" y="220" width="11" height="184" fill="#000"/>
<rect x="1185" y="221" width="9" height="182" fill="#ff0000"/>
<rect x="1200" y="220" width="11" height="1" fill="#00ff00"/>
<rect x="1205" y="219" width="1" height="42" fill="#00ff00"/>
<rect x="1221" y="188" width="1" height="35" fill="#000"/>
<rect x="1216" y="212" width="11" height="8" fill="#000"/>
<rect x="1217" y="213" width="9" height="6" fill="#ff0000"/>
<rect x="1237" y="206" width="1" height="29" fill="#000"/>
<rect x="1232" y="211" width="11" height="7" fill="#000"/>
<rect x="1233" y="212" width="9" height="5" fill="#00ff00"/>
<rect x="1253" y="164" width="1" height="59" fill="#000"/>
<rect x="1248" y="170" width="11" height="48" fill="#000"/>
<rect x="1249" y="171" width="9" height="46" fill="#ff0000"/>
<rect x="1269" y="134" width="1" height="52" fill="#000"/>
<rect x="1264" y="135" width="11" height="36" fill="#000"/>
<rect x="1265" y="136" width="9" height="34" fill="#ff0000"/>
<rect x="1285" y="107" width="1" height="48" fill="#000"/>
<rect x="1280" y="107" width="11" height="29" fill="#000"/>
<rect x="1281" y="108" width="9" height="27" fill="#ff0000"/>
<rect x="1301" y="78" width="1" height="41" fill="#000"/>
<rect x="1296" y="79" width="11" height="29" fill="#000"/>
<rect x="1297" y="80" width="9" height="27" fill="#ff0000"/>
<rect x="1317" y="101" width="1" height="16" fill="#000"/>
<rect x="1312" y="107" width="11" height="5" fill="#000"/>
<rect x="1313" y="108" width="9" height="3" fill="#ff0000"/>
<rect x="1333" y="89" width="1" height="27" fill="#000"/>
<rect x="1328" y="106" width="11" height="2" fill="#000"/>
<rect x="1349" y="105" width="1" height="25" fill="#000"/>
<rect x="1344" y="106" width="11" height="2" fill="#000"/>
<rect x="1365" y="88" width="1" height="60" fill="#000"/>
<rect x="1360" y="106" width="11" height="35" fill="#000"/>
<rect x="1361" y="107" width="9" height="33" fill="#00ff00"/>
<rect x="1381" y="100" width="1" height="51" fill="#000"/>
<rect x="1376" y="104" width="11" height="37" fill="#000"/>
<rect x="1377" y="105" width="9" height="35" fill="#ff0000"/>
<rect x="1397" y="82" width="1" height="27" fill="#000"/>
<rect x="1392" y="86" width="11" height="19" fill="#000"/>
<rect x="1393" y="87" width="9" height="17" fill="#ff0000"/>
<rect x="1413" y="85" width="1" height="23" fill="#000"/>
<rect x="1408" y="86" width="11" height="19" fill="#000"/>
<rect x="1409" y="87" width="9" height="17" fill="#00ff00"/>
<rect x="6" y="92" width="1635" height="2" fill="#ffa500"/>
<rect x="5" y="31" width="1636" height="2" fill="#ff0000"/>
<rect x="5" y="62" width="1636" height="2" fill="#ff0000"/>
<rect x="5" y="132" width="1636" height="2" fill="#0000ff"/>
<rect x="5" y="161" width="1636" height="2" fill="#0000ff"/>
<rect x="4" y="29" width="6" height="6" fill="#ff0000"/>
<rect x="6" y="31" width="2" height="2" fill="#ffffff"/>
<rect x="1635" y="29" width="6" height="6" fill="#ff0000"/>
<rect x="1637" y="31" width="2" height="2" fill="#ffffff"/>
<rect x="4" y="60" width="6" height="6" fill="#ff0000"/>
<rect x="6" y="62" width="2" height="2" fill="#ffffff"/>
<rect x="1635" y="60" width="6" height="6" fill="#ff0000"/>
<rect x="1637" y="62" width="2" height="2" fill="#ffffff"/>
<rect x="4" y="130" width="6" height="6" fill="#0000ff"/>
<rect x="6" y="132" width="2" height="2" fill="#ffffff"/>
<rect x="1635" y="130" width="6" height="6" fill="#0000ff"/>
<rect x="1637" y="132" width="2" height="2" fill="#ffffff"/>
<rect x="4" y="159" width="6" height="6" fill="#0000ff"/>
<rect x="6" y="161" width="2" height="2" fill="#ffffff"/>
<rect x="1635" y="159" width="6" height="6" fill="#0000ff"/>
<rect x="1637" y="161" width="2" height="2" fill="#ffffff"/>
<path d="M1439,27h10v1h-1v1h-1v1h-1v1h-1v1h-2v-1h-1v-1h-1v-1h-1v-1h-1z" fill="#000"/>
</g>
<path d="M8,33h7v1h-1v1h-1v1h-1v1h-1v-1h-1v-1h-1v-1h-1z" fill="#000"/>
<text x="20.5" y="38" font-size="10" fill="#000" stroke="#000" stroke-width="0.22" textLength="203.5" lengthAdjust="spacingAndGlyphs" xml:space="preserve">EURUSD-,H4  1.03527 1.03544 1.03253 1.03290</text>
<g shape-rendering="crispEdges">
<rect x="10" y="31" width="1625" height="2" fill="#ff0000"/>
<rect x="4" y="29" width="6" height="6" fill="#ff0000"/>
<rect x="6" y="31" width="2" height="2" fill="#fff"/>
</g>
<line x1="1300.8" y1="69.9" x2="1461" y2="76" stroke="#46962a" stroke-width="3.4"/>
<path d="M1460.1,67.3 L1478,76.6 L1459.4,85 Z" fill="#4c9a2e"/>
<g shape-rendering="crispEdges">
<rect x="1642" y="44" width="2" height="1" fill="#000"/>
<rect x="1642" y="77" width="2" height="1" fill="#000"/>
<rect x="1642" y="110" width="2" height="1" fill="#000"/>
<rect x="1642" y="143" width="2" height="1" fill="#000"/>
<rect x="1642" y="176" width="2" height="1" fill="#000"/>
<rect x="1642" y="209" width="2" height="1" fill="#000"/>
<rect x="1642" y="242" width="2" height="1" fill="#000"/>
<rect x="1642" y="275" width="2" height="1" fill="#000"/>
<rect x="1642" y="308" width="2" height="1" fill="#000"/>
<rect x="1642" y="341" width="2" height="1" fill="#000"/>
<rect x="1642" y="374" width="2" height="1" fill="#000"/>
<rect x="1642" y="407" width="2" height="1" fill="#000"/>
<rect x="1642" y="440" width="2" height="1" fill="#000"/>
<rect x="1642" y="473" width="2" height="1" fill="#000"/>
<rect x="1642" y="506" width="2" height="1" fill="#000"/>
<rect x="1642" y="539" width="2" height="1" fill="#000"/>
<rect x="1642" y="572" width="2" height="1" fill="#000"/>
<rect x="1642" y="605" width="2" height="1" fill="#000"/>
</g>
<text x="1647.5" y="48" font-size="10" fill="#000" stroke="#000" stroke-width="0.22" textLength="32.2" lengthAdjust="spacingAndGlyphs" xml:space="preserve">1.04070</text>
<text x="1647.5" y="81" font-size="10" fill="#000" stroke="#000" stroke-width="0.22" textLength="32.2" lengthAdjust="spacingAndGlyphs" xml:space="preserve">1.03640</text>
<text x="1647.5" y="114" font-size="10" fill="#000" stroke="#000" stroke-width="0.22" textLength="32.2" lengthAdjust="spacingAndGlyphs" xml:space="preserve">1.03210</text>
<text x="1647.5" y="147" font-size="10" fill="#000" stroke="#000" stroke-width="0.22" textLength="32.2" lengthAdjust="spacingAndGlyphs" xml:space="preserve">1.02790</text>
<text x="1647.5" y="180" font-size="10" fill="#000" stroke="#000" stroke-width="0.22" textLength="32.2" lengthAdjust="spacingAndGlyphs" xml:space="preserve">1.02360</text>
<text x="1647.5" y="213" font-size="10" fill="#000" stroke="#000" stroke-width="0.22" textLength="32.2" lengthAdjust="spacingAndGlyphs" xml:space="preserve">1.01940</text>
<text x="1647.5" y="246" font-size="10" fill="#000" stroke="#000" stroke-width="0.22" textLength="32.2" lengthAdjust="spacingAndGlyphs" xml:space="preserve">1.01510</text>
<text x="1647.5" y="279" font-size="10" fill="#000" stroke="#000" stroke-width="0.22" textLength="32.2" lengthAdjust="spacingAndGlyphs" xml:space="preserve">1.01090</text>
<text x="1647.5" y="312" font-size="10" fill="#000" stroke="#000" stroke-width="0.22" textLength="32.2" lengthAdjust="spacingAndGlyphs" xml:space="preserve">1.00660</text>
<text x="1647.5" y="345" font-size="10" fill="#000" stroke="#000" stroke-width="0.22" textLength="32.2" lengthAdjust="spacingAndGlyphs" xml:space="preserve">1.00240</text>
<text x="1647.5" y="378" font-size="10" fill="#000" stroke="#000" stroke-width="0.22" textLength="32.2" lengthAdjust="spacingAndGlyphs" xml:space="preserve">0.99810</text>
<text x="1647.5" y="411" font-size="10" fill="#000" stroke="#000" stroke-width="0.22" textLength="32.2" lengthAdjust="spacingAndGlyphs" xml:space="preserve">0.99380</text>
<text x="1647.5" y="444" font-size="10" fill="#000" stroke="#000" stroke-width="0.22" textLength="32.2" lengthAdjust="spacingAndGlyphs" xml:space="preserve">0.98960</text>
<text x="1647.5" y="477" font-size="10" fill="#000" stroke="#000" stroke-width="0.22" textLength="32.2" lengthAdjust="spacingAndGlyphs" xml:space="preserve">0.98530</text>
<text x="1647.5" y="510" font-size="10" fill="#000" stroke="#000" stroke-width="0.22" textLength="32.2" lengthAdjust="spacingAndGlyphs" xml:space="preserve">0.98110</text>
<text x="1647.5" y="543" font-size="10" fill="#000" stroke="#000" stroke-width="0.22" textLength="32.2" lengthAdjust="spacingAndGlyphs" xml:space="preserve">0.97680</text>
<text x="1647.5" y="576" font-size="10" fill="#000" stroke="#000" stroke-width="0.22" textLength="32.2" lengthAdjust="spacingAndGlyphs" xml:space="preserve">0.97260</text>
<text x="1647.5" y="609" font-size="10" fill="#000" stroke="#000" stroke-width="0.22" textLength="32.2" lengthAdjust="spacingAndGlyphs" xml:space="preserve">0.96830</text>
<rect x="1643" y="26" width="41" height="11" fill="#ff0000" shape-rendering="crispEdges"/>
<text x="1647.5" y="35" font-size="10" fill="#fff" stroke="none" stroke-width="0.22" textLength="32.2" lengthAdjust="spacingAndGlyphs" xml:space="preserve">1.04218</text>
<rect x="1643" y="57" width="41" height="11" fill="#ff0000" shape-rendering="crispEdges"/>
<text x="1647.5" y="66" font-size="10" fill="#fff" stroke="none" stroke-width="0.22" textLength="32.2" lengthAdjust="spacingAndGlyphs" xml:space="preserve">1.03824</text>
<rect x="1643" y="87" width="41" height="11" fill="#ffa500" shape-rendering="crispEdges"/>
<text x="1647.5" y="96" font-size="10" fill="#fff" stroke="none" stroke-width="0.22" textLength="32.2" lengthAdjust="spacingAndGlyphs" xml:space="preserve">1.03434</text>
<rect x="1643" y="99" width="41" height="11" fill="#000000" shape-rendering="crispEdges"/>
<text x="1647.5" y="108" font-size="10" fill="#fff" stroke="none" stroke-width="0.22" textLength="32.2" lengthAdjust="spacingAndGlyphs" xml:space="preserve">1.03290</text>
<rect x="1643" y="127" width="41" height="11" fill="#0000ff" shape-rendering="crispEdges"/>
<text x="1647.5" y="136" font-size="10" fill="#fff" stroke="none" stroke-width="0.22" textLength="32.2" lengthAdjust="spacingAndGlyphs" xml:space="preserve">1.02917</text>
<rect x="1643" y="156" width="41" height="11" fill="#0000ff" shape-rendering="crispEdges"/>
<text x="1647.5" y="165" font-size="10" fill="#fff" stroke="none" stroke-width="0.22" textLength="32.2" lengthAdjust="spacingAndGlyphs" xml:space="preserve">1.02541</text>
<g clip-path="url(#cd)" shape-rendering="crispEdges">
<rect x="4" y="670" width="3" height="16" fill="#00ff00"/>
<rect x="20" y="670" width="3" height="16" fill="#00ff00"/>
<rect x="36" y="666" width="3" height="20" fill="#00ff00"/>
<rect x="52" y="662" width="3" height="24" fill="#00ff00"/>
<rect x="68" y="659" width="3" height="27" fill="#00ff00"/>
<rect x="84" y="657" width="3" height="29" fill="#00ff00"/>
<rect x="100" y="652" width="3" height="34" fill="#00ff00"/>
<rect x="116" y="649" width="3" height="37" fill="#00ff00"/>
<rect x="132" y="644" width="3" height="42" fill="#00ff00"/>
<rect x="148" y="641" width="3" height="45" fill="#00ff00"/>
<rect x="164" y="637" width="3" height="49" fill="#00ff00"/>
<rect x="180" y="637" width="3" height="49" fill="#00ff00"/>
<rect x="196" y="637" width="3" height="49" fill="#00ff00"/>
<rect x="212" y="639" width="3" height="47" fill="#00ff00"/>
<rect x="228" y="644" width="3" height="42" fill="#00ff00"/>
<rect x="244" y="650" width="3" height="36" fill="#00ff00"/>
<rect x="260" y="655" width="3" height="31" fill="#00ff00"/>
<rect x="276" y="658" width="3" height="28" fill="#00ff00"/>
<rect x="292" y="663" width="3" height="23" fill="#00ff00"/>
<rect x="308" y="667" width="3" height="19" fill="#00ff00"/>
<rect x="324" y="671" width="3" height="15" fill="#00ff00"/>
<rect x="340" y="674" width="3" height="12" fill="#00ff00"/>
<rect x="356" y="676" width="3" height="10" fill="#00ff00"/>
<rect x="372" y="677" width="3" height="9" fill="#00ff00"/>
<rect x="388" y="680" width="3" height="6" fill="#00ff00"/>
<rect x="404" y="682" width="3" height="4" fill="#00ff00"/>
<rect x="420" y="686" width="3" height="2" fill="#00ff00"/>
<rect x="436" y="686" width="3" height="5" fill="#00ff00"/>
<rect x="452" y="686" width="3" height="8" fill="#00ff00"/>
<rect x="468" y="686" width="3" height="9" fill="#00ff00"/>
<rect x="484" y="686" width="3" height="8" fill="#00ff00"/>
<rect x="500" y="686" width="3" height="7" fill="#00ff00"/>
<rect x="516" y="686" width="3" height="10" fill="#00ff00"/>
<rect x="532" y="686" width="3" height="12" fill="#00ff00"/>
<rect x="548" y="686" width="3" height="13" fill="#00ff00"/>
<rect x="564" y="686" width="3" height="13" fill="#00ff00"/>
<rect x="580" y="686" width="3" height="13" fill="#00ff00"/>
<rect x="596" y="686" width="3" height="12" fill="#00ff00"/>
<rect x="612" y="686" width="3" height="13" fill="#00ff00"/>
<rect x="628" y="686" width="3" height="16" fill="#00ff00"/>
<rect x="644" y="686" width="3" height="19" fill="#00ff00"/>
<rect x="660" y="686" width="3" height="20" fill="#00ff00"/>
<rect x="676" y="686" width="3" height="24" fill="#00ff00"/>
<rect x="692" y="686" width="3" height="29" fill="#00ff00"/>
<rect x="708" y="686" width="3" height="31" fill="#00ff00"/>
<rect x="724" y="686" width="3" height="33" fill="#00ff00"/>
<rect x="740" y="686" width="3" height="34" fill="#00ff00"/>
<rect x="756" y="686" width="3" height="34" fill="#00ff00"/>
<rect x="772" y="686" width="3" height="33" fill="#00ff00"/>
<rect x="788" y="686" width="3" height="31" fill="#00ff00"/>
<rect x="804" y="686" width="3" height="23" fill="#00ff00"/>
<rect x="820" y="686" width="3" height="13" fill="#00ff00"/>
<rect x="836" y="686" width="3" height="7" fill="#00ff00"/>
<rect x="852" y="686" width="3" height="1" fill="#00ff00"/>
<rect x="868" y="682" width="3" height="4" fill="#00ff00"/>
<rect x="884" y="676" width="3" height="10" fill="#00ff00"/>
<rect x="900" y="670" width="3" height="16" fill="#00ff00"/>
<rect x="916" y="664" width="3" height="22" fill="#00ff00"/>
<rect x="932" y="661" width="3" height="25" fill="#00ff00"/>
<rect x="948" y="658" width="3" height="28" fill="#00ff00"/>
<rect x="964" y="657" width="3" height="29" fill="#00ff00"/>
<rect x="980" y="657" width="3" height="29" fill="#00ff00"/>
<rect x="996" y="653" width="3" height="33" fill="#00ff00"/>
<rect x="1012" y="650" width="3" height="36" fill="#00ff00"/>
<rect x="1028" y="648" width="3" height="38" fill="#00ff00"/>
<rect x="1044" y="647" width="3" height="39" fill="#00ff00"/>
<rect x="1060" y="647" width="3" height="39" fill="#00ff00"/>
<rect x="1076" y="648" width="3" height="38" fill="#00ff00"/>
<rect x="1092" y="651" width="3" height="35" fill="#00ff00"/>
<rect x="1108" y="655" width="3" height="31" fill="#00ff00"/>
<rect x="1124" y="658" width="3" height="28" fill="#00ff00"/>
<rect x="1140" y="660" width="3" height="26" fill="#00ff00"/>
<rect x="1156" y="663" width="3" height="23" fill="#00ff00"/>
<rect x="1172" y="669" width="3" height="17" fill="#00ff00"/>
<rect x="1188" y="661" width="3" height="25" fill="#00ff00"/>
<rect x="1204" y="654" width="3" height="32" fill="#00ff00"/>
<rect x="1220" y="649" width="3" height="37" fill="#00ff00"/>
<rect x="1236" y="645" width="3" height="41" fill="#00ff00"/>
<rect x="1252" y="640" width="3" height="46" fill="#00ff00"/>
<rect x="1268" y="633" width="3" height="53" fill="#00ff00"/>
<rect x="1284" y="627" width="3" height="59" fill="#00ff00"/>
<rect x="1300" y="620" width="3" height="66" fill="#00ff00"/>
<rect x="1316" y="618" width="3" height="68" fill="#00ff00"/>
<rect x="1332" y="617" width="3" height="69" fill="#00ff00"/>
<rect x="1348" y="617" width="3" height="69" fill="#00ff00"/>
<rect x="1364" y="620" width="3" height="66" fill="#00ff00"/>
<rect x="1380" y="621" width="3" height="65" fill="#00ff00"/>
<rect x="1396" y="620" width="3" height="66" fill="#00ff00"/>
<rect x="1412" y="622" width="3" height="64" fill="#00ff00"/>
<polyline points="5.5,673.7 21.5,673.0 37.5,672.3 53.5,670.4 69.5,668.5 85.5,666.6 101.5,664.2 117.5,661.8 133.5,659.0 149.5,656.2 165.5,652.1 181.5,649.0 197.5,646.2 213.5,644.1 229.5,642.2 245.5,642.0 261.5,643.4 277.5,644.1 293.5,646.9 309.5,650.5 325.5,654.5 341.5,658.3 357.5,662.1 373.5,666.1 389.5,669.4 405.5,671.8 421.5,674.9 437.5,678.2 453.5,681.3 469.5,684.6 485.5,686.5 501.5,687.2 517.5,688.4 533.5,690.3 549.5,692.6 565.5,694.0 581.5,695.2 597.5,695.7 613.5,695.9 629.5,696.9 645.5,697.8 661.5,700.4 677.5,701.2 693.5,703.3 709.5,705.4 725.5,707.3 741.5,709.2 757.5,712.0 773.5,714.4 789.5,714.9 805.5,714.9 821.5,714.4 837.5,711.6 853.5,708.5 869.5,704.5 885.5,699.7 901.5,694.3 917.5,687.9 933.5,682.0 949.5,675.6 965.5,672.0 981.5,668.5 997.5,664.2 1013.5,661.4 1029.5,658.8 1045.5,655.2 1061.5,653.3 1077.5,652.4 1093.5,651.2 1109.5,650.7 1125.5,651.4 1141.5,652.4 1157.5,653.8 1173.5,655.4 1189.5,657.6 1205.5,657.6 1221.5,657.6 1237.5,657.1 1253.5,655.4 1269.5,653.5 1285.5,649.3 1301.5,644.8 1317.5,638.2 1333.5,634.6 1349.5,628.7 1365.5,626.3 1381.5,622.8 1397.5,620.9 1413.5,620.9" fill="none" stroke="#ff0000" stroke-width="2" stroke-linejoin="bevel" shape-rendering="crispEdges"/>
</g>
<text x="9.5" y="623" font-size="10" fill="#000" stroke="#000" stroke-width="0.22" textLength="147.3" lengthAdjust="spacingAndGlyphs" xml:space="preserve">MACD(12,26,9) 0.008804 0.009124</text>
<g shape-rendering="crispEdges">
<rect x="1642" y="612" width="1" height="1" fill="#000"/>
<rect x="1642" y="686" width="2" height="1" fill="#000"/>
<rect x="1642" y="724" width="1" height="1" fill="#000"/>
</g>
<text x="1645.2" y="621" font-size="10" fill="#000" stroke="#000" stroke-width="0.22" textLength="37.6" lengthAdjust="spacingAndGlyphs" xml:space="preserve">0.010322</text>
<text x="1645.2" y="690" font-size="10" fill="#000" stroke="#000" stroke-width="0.22" textLength="17.6" lengthAdjust="spacingAndGlyphs" xml:space="preserve">0.00</text>
<text x="1645.2" y="722" font-size="10" fill="#000" stroke="#000" stroke-width="0.22" textLength="40.6" lengthAdjust="spacingAndGlyphs" xml:space="preserve">-0.005408</text>
<g shape-rendering="crispEdges">
<line x1="5" y1="751.5" x2="1641" y2="751.5" stroke="#000" stroke-width="1" stroke-dasharray="3,3" stroke-dashoffset="-1"/>
<rect x="1642" y="751" width="2" height="1" fill="#000"/>
<line x1="5" y1="784.5" x2="1641" y2="784.5" stroke="#000" stroke-width="1" stroke-dasharray="3,3" stroke-dashoffset="-1"/>
<rect x="1642" y="784" width="2" height="1" fill="#000"/>
<line x1="5" y1="824.5" x2="1641" y2="824.5" stroke="#000" stroke-width="1" stroke-dasharray="3,3" stroke-dashoffset="-1"/>
<rect x="1642" y="824" width="2" height="1" fill="#000"/>
<rect x="1642" y="729" width="1" height="1" fill="#000"/>
<rect x="1642" y="839" width="1" height="1" fill="#000"/>
</g>
<g clip-path="url(#cr)">
<polyline points="5.5,777.6 21.5,776.6 37.5,762.9 53.5,762.9 69.5,762.9 85.5,763.6 101.5,756.5 117.5,758.9 133.5,755.1 149.5,753.9 165.5,753.9 181.5,759.8 197.5,760.0 213.5,764.8 229.5,779.5 245.5,782.3 261.5,782.3 277.5,778.8 293.5,786.6 309.5,785.9 325.5,788.9 341.5,784.9 357.5,784.9 373.5,783.5 389.5,788.5 405.5,788.5 421.5,796.5 437.5,796.5 453.5,796.5 469.5,792.5 485.5,785.9 501.5,785.9 517.5,795.6 533.5,795.3 549.5,794.6 565.5,792.0 581.5,793.0 597.5,789.7 613.5,793.7 629.5,801.3 645.5,802.7 661.5,800.1 677.5,805.5 693.5,809.8 709.5,806.0 725.5,806.0 741.5,806.0 757.5,800.8 773.5,800.8 789.5,793.7 805.5,775.4 821.5,769.3 837.5,772.8 853.5,772.8 869.5,774.0 885.5,768.1 901.5,766.4 917.5,763.6 933.5,765.7 949.5,766.0 965.5,768.8 981.5,768.8 997.5,761.0 1013.5,761.0 1029.5,761.0 1045.5,762.9 1061.5,764.1 1077.5,766.9 1093.5,773.6 1109.5,780.0 1125.5,776.6 1141.5,776.6 1157.5,782.5 1173.5,792.0 1189.5,763.6 1205.5,763.6 1221.5,763.6 1237.5,763.6 1253.5,759.3 1269.5,757.4 1285.5,754.6 1301.5,753.9 1317.5,758.9 1333.5,758.9 1349.5,758.9 1365.5,766.9 1381.5,762.9 1397.5,761.7 1413.5,766.0" fill="none" stroke="#1e90ff" stroke-width="2" stroke-linejoin="round" shape-rendering="crispEdges"/>
</g>
<text x="9.5" y="740" font-size="10" fill="#000" stroke="#000" stroke-width="0.22" textLength="67.5" lengthAdjust="spacingAndGlyphs" xml:space="preserve">RSI(14) 66.8245</text>
<text x="1645.4" y="738" font-size="10" fill="#000" stroke="#000" stroke-width="0.22" textLength="14.6" lengthAdjust="spacingAndGlyphs" xml:space="preserve">100</text>
<text x="1644.5" y="755" font-size="10" fill="#000" stroke="#000" stroke-width="0.22" textLength="9.8" lengthAdjust="spacingAndGlyphs" xml:space="preserve">80</text>
<text x="1644.5" y="788" font-size="10" fill="#000" stroke="#000" stroke-width="0.22" textLength="9.8" lengthAdjust="spacingAndGlyphs" xml:space="preserve">50</text>
<text x="1645" y="828" font-size="10" fill="#000" stroke="#000" stroke-width="0.22" textLength="10" lengthAdjust="spacingAndGlyphs" xml:space="preserve">15</text>
<text x="1645.4" y="838" font-size="10" fill="#000" stroke="#000" stroke-width="0.22" textLength="4.8" lengthAdjust="spacingAndGlyphs" xml:space="preserve">0</text>
<g shape-rendering="crispEdges">
<rect x="5" y="842" width="1" height="3" fill="#000"/>
<rect x="69" y="842" width="1" height="3" fill="#000"/>
<rect x="133" y="842" width="1" height="3" fill="#000"/>
<rect x="197" y="842" width="1" height="3" fill="#000"/>
<rect x="261" y="842" width="1" height="3" fill="#000"/>
<rect x="325" y="842" width="1" height="3" fill="#000"/>
<rect x="389" y="842" width="1" height="3" fill="#000"/>
<rect x="453" y="842" width="1" height="3" fill="#000"/>
<rect x="517" y="842" width="1" height="3" fill="#000"/>
<rect x="581" y="842" width="1" height="3" fill="#000"/>
<rect x="645" y="842" width="1" height="3" fill="#000"/>
<rect x="709" y="842" width="1" height="3" fill="#000"/>
<rect x="773" y="842" width="1" height="3" fill="#000"/>
<rect x="837" y="842" width="1" height="3" fill="#000"/>
<rect x="901" y="842" width="1" height="3" fill="#000"/>
<rect x="965" y="842" width="1" height="3" fill="#000"/>
<rect x="1029" y="842" width="1" height="3" fill="#000"/>
<rect x="1093" y="842" width="1" height="3" fill="#000"/>
<rect x="1157" y="842" width="1" height="3" fill="#000"/>
<rect x="1221" y="842" width="1" height="3" fill="#000"/>
<rect x="1285" y="842" width="1" height="3" fill="#000"/>
<rect x="1349" y="842" width="1" height="3" fill="#000"/>
<rect x="1413" y="842" width="1" height="3" fill="#000"/>
</g>
<text x="4.7" y="854" font-size="10" fill="#000" stroke="#000" stroke-width="0.22" textLength="50.3" lengthAdjust="spacingAndGlyphs" xml:space="preserve">25 Oct 2022</text>
<text x="68.7" y="854" font-size="10" fill="#000" stroke="#000" stroke-width="0.22" textLength="53.3" lengthAdjust="spacingAndGlyphs" xml:space="preserve">25 Oct 20:00</text>
<text x="132.7" y="854" font-size="10" fill="#000" stroke="#000" stroke-width="0.22" textLength="53.3" lengthAdjust="spacingAndGlyphs" xml:space="preserve">26 Oct 12:00</text>
<text x="196.7" y="854" font-size="10" fill="#000" stroke="#000" stroke-width="0.22" textLength="53.3" lengthAdjust="spacingAndGlyphs" xml:space="preserve">27 Oct 04:00</text>
<text x="260.7" y="854" font-size="10" fill="#000" stroke="#000" stroke-width="0.22" textLength="53.3" lengthAdjust="spacingAndGlyphs" xml:space="preserve">27 Oct 20:00</text>
<text x="324.7" y="854" font-size="10" fill="#000" stroke="#000" stroke-width="0.22" textLength="53.3" lengthAdjust="spacingAndGlyphs" xml:space="preserve">28 Oct 12:00</text>
<text x="388.7" y="854" font-size="10" fill="#000" stroke="#000" stroke-width="0.22" textLength="53.3" lengthAdjust="spacingAndGlyphs" xml:space="preserve">31 Oct 04:00</text>
<text x="452.7" y="854" font-size="10" fill="#000" stroke="#000" stroke-width="0.22" textLength="53.3" lengthAdjust="spacingAndGlyphs" xml:space="preserve">31 Oct 20:00</text>
<text x="516.7" y="854" font-size="10" fill="#000" stroke="#000" stroke-width="0.22" textLength="51.3" lengthAdjust="spacingAndGlyphs" xml:space="preserve">1 Nov 12:00</text>
<text x="580.7" y="854" font-size="10" fill="#000" stroke="#000" stroke-width="0.22" textLength="51.3" lengthAdjust="spacingAndGlyphs" xml:space="preserve">2 Nov 04:00</text>
<text x="644.7" y="854" font-size="10" fill="#000" stroke="#000" stroke-width="0.22" textLength="51.3" lengthAdjust="spacingAndGlyphs" xml:space="preserve">2 Nov 20:00</text>
<text x="708.7" y="854" font-size="10" fill="#000" stroke="#000" stroke-width="0.22" textLength="51.3" lengthAdjust="spacingAndGlyphs" xml:space="preserve">3 Nov 12:00</text>
<text x="772.7" y="854" font-size="10" fill="#000" stroke="#000" stroke-width="0.22" textLength="51.3" lengthAdjust="spacingAndGlyphs" xml:space="preserve">4 Nov 04:00</text>
<text x="836.7" y="854" font-size="10" fill="#000" stroke="#000" stroke-width="0.22" textLength="51.3" lengthAdjust="spacingAndGlyphs" xml:space="preserve">6 Nov 23:00</text>
<text x="900.7" y="854" font-size="10" fill="#000" stroke="#000" stroke-width="0.22" textLength="51.3" lengthAdjust="spacingAndGlyphs" xml:space="preserve">7 Nov 12:00</text>
<text x="964.7" y="854" font-size="10" fill="#000" stroke="#000" stroke-width="0.22" textLength="51.3" lengthAdjust="spacingAndGlyphs" xml:space="preserve">8 Nov 04:00</text>
<text x="1028.7" y="854" font-size="10" fill="#000" stroke="#000" stroke-width="0.22" textLength="51.3" lengthAdjust="spacingAndGlyphs" xml:space="preserve">8 Nov 20:00</text>
<text x="1092.7" y="854" font-size="10" fill="#000" stroke="#000" stroke-width="0.22" textLength="51.3" lengthAdjust="spacingAndGlyphs" xml:space="preserve">9 Nov 12:00</text>
<text x="1156.7" y="854" font-size="10" fill="#000" stroke="#000" stroke-width="0.22" textLength="56.4" lengthAdjust="spacingAndGlyphs" xml:space="preserve">10 Nov 04:00</text>
<text x="1220.7" y="854" font-size="10" fill="#000" stroke="#000" stroke-width="0.22" textLength="56.4" lengthAdjust="spacingAndGlyphs" xml:space="preserve">10 Nov 20:00</text>
<text x="1284.7" y="854" font-size="10" fill="#000" stroke="#000" stroke-width="0.22" textLength="56.4" lengthAdjust="spacingAndGlyphs" xml:space="preserve">11 Nov 12:00</text>
<text x="1348.7" y="854" font-size="10" fill="#000" stroke="#000" stroke-width="0.22" textLength="56.4" lengthAdjust="spacingAndGlyphs" xml:space="preserve">14 Nov 04:00</text>
<text x="1412.7" y="854" font-size="10" fill="#000" stroke="#000" stroke-width="0.22" textLength="56.4" lengthAdjust="spacingAndGlyphs" xml:space="preserve">14 Nov 20:00</text>
</svg></body></html>
